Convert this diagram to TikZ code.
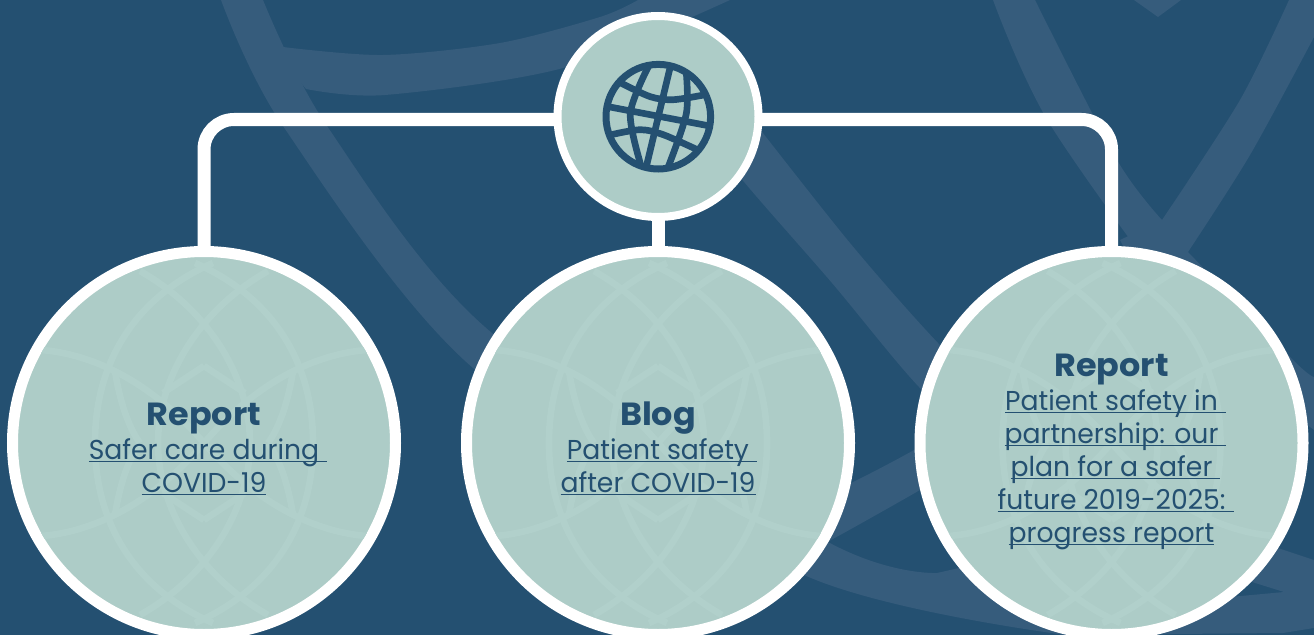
\documentclass[tikz,border=0pt]{standalone}
\usepackage{fontspec}
\setmainfont[FakeStretch=0.975]{Poppins}
\newfontfamily\ttlfont[FakeStretch=1.045,BoldFont={Poppins Bold}]{Poppins}
\definecolor{bgblue}{HTML}{245071}
\definecolor{bandblue}{HTML}{365C7C}
\definecolor{mint}{HTML}{ADCCC7}
\definecolor{mintlight}{HTML}{B1D0CB}
\newcommand\lnk[2][0pt]{\leavevmode\setbox0\hbox{#2}\rlap{\rule[-2.2pt]{\dimexpr\wd0+#1\relax}{1pt}}\box0}
\newcommand\ttl[1]{\rule{0pt}{20pt}{\fontsize{24pt}{24.75pt}\selectfont\ttlfont\bfseries #1}}
\tikzset{
  band/.style={fill=bandblue,draw=none},
  bigcirc/.style={circle,draw=white,fill=mint,line width=8.25pt,minimum size=287.25pt,inner sep=0pt},
  hubcirc/.style={circle,draw=white,fill=mint,line width=6pt,minimum size=150.75pt,inner sep=0pt},
  link/.style={draw=white,line width=9.75pt,rounded corners=22.5pt},
  motifline/.style={draw=mintlight,line width=5pt},
  globeline/.style={draw=bgblue,line width=5pt,line cap=butt},
  txt/.style={text=bgblue,align=center,anchor=north,inner sep=0pt,outer sep=0pt,font=\fontsize{20.5pt}{24.75pt}\selectfont}
}
\newcommand\quadmotif{%
  \draw[motifline] (-64,-172) .. controls (10,-130) and (46,-60) .. (46,0);
  \draw[motifline] (9,-180) .. controls (-60,-150) and (-109,-90) .. (-109,0);
  \draw[motifline] (-190,-93) .. controls (-130,-98) and (-60,-70) .. (0,0);
  \draw[motifline] (-41,-50) -- (0,-77);
  \draw[motifline] (-89,-72) .. controls (-84,-40) and (-75,-15) .. (-64,0);
}
\newcommand\motif[2]{%
  \begin{scope}
    \clip (#1,#2) circle[radius=186];
    \begin{scope}[shift={(#1,#2)}]\quadmotif\end{scope}
    \begin{scope}[shift={(#1,#2)},xscale=-1]\quadmotif\end{scope}
    \begin{scope}[shift={(#1,#2)},yscale=-1]\quadmotif\end{scope}
    \begin{scope}[shift={(#1,#2)},xscale=-1,yscale=-1]\quadmotif\end{scope}
  \end{scope}%
}
\begin{document}
\begin{tikzpicture}[x=0.75pt,y=-0.75pt]
\clip (0,0) rectangle (1314,635);
\fill[bgblue] (0,0) rectangle (1314,635);
% background bands
\fill[band] plot[smooth] coordinates {(221,0)(283,126)(473,368)(804,575)(1066,635)} -- (1283,633) -- (1314,628) -- (1314,585) -- (1284,592) -- (1230,597) -- (1100,570) -- (1000,550) -- (959,568) -- plot[smooth] coordinates {(937,573)(828,542)(492,333)(327,126)(263,0)} -- cycle;
\fill[band] (1150,560) -- (1200,530) -- (1278,548) -- (1314,560) -- (1314,610) -- (1284,592) -- (1252,582) -- cycle;
\fill[band] plot[smooth] coordinates {(745,110)(850,243)(938,343)(1000,400)} -- plot[smooth] coordinates {(1000,460)(919,387)(832,283)(740,177)(700,120)} -- cycle;
\fill[band] plot[smooth] coordinates {(283,47)(383,55)(500,43)(600,17)(638,0)} -- (730,0) -- plot[smooth] coordinates {(730,0)(563,68)(385,95)(306,89)} -- (290,70) -- cycle;
\fill[band] plot[smooth] coordinates {(993,0)(1051,126)(1200,330)(1314,430)} -- plot[smooth] coordinates {(1314,377)(1293,360)(1188,252)} -- plot[smooth] coordinates {(1162,220)(1117,160)(1035,0)} -- cycle;
\fill[band] plot[smooth] coordinates {(1162,220)(1240,100)(1289,0)} -- (1314,0) -- plot[smooth] coordinates {(1314,37)(1250,155)(1188,252)} -- (1150,300) -- (1120,240) -- cycle;
\fill[band] plot[smooth] coordinates {(800,505)(851,483)(914,450)(980,410)} -- plot[smooth] coordinates {(960,465)(920,490)(831,540)(790,560)} -- cycle;
\fill[band] (1134,0) -- (1158,17) -- (1181,0) -- cycle;
% circles
\node[bigcirc] (left) at (204,443) {};
\node[bigcirc] (mid) at (658,443) {};
\node[bigcirc] (right) at (1111.5,443) {};
\motif{204}{443}
\motif{658}{443}
\motif{1111.5}{443}
% connectors
\coordinate (jl) at (558,119.5);
\coordinate (jr) at (758,119.5);
\node[hubcirc] (hub) at (658,116.5) {};
\draw[link] (left.north) |- (jl);
\draw[link] (right.north) |- (jr);
\draw[link] (hub.south) -- (mid.north);
% globe
\begin{scope}[shift={(658.3,116.7)}]
\clip (0,0) circle[radius=54];
\draw[globeline] (-50,-10) -- (50,9);
\draw[globeline] (12,-50) -- (-12,50);
\draw[globeline] plot[smooth] coordinates {(-38,-34)(-8,-20)(15,-17)(47,-22)};
\draw[globeline] plot[smooth] coordinates {(-47,18)(-18,13)(5,18)(39,33)};
\draw[globeline] plot[smooth] coordinates {(-10,-50)(-28,-3)(-17,50)};
\draw[globeline] plot[smooth] coordinates {(28,-44)(28,-3)(10,50)};
\end{scope}
\draw[draw=bgblue,line width=5.25pt] (658.3,116.7) circle[radius=52.3];
% text
\node[txt] (t1) at (204,398.5) {\ttl{Report}\\[0.75pt]\lnk[6pt]{Safer care during}\\\lnk{COVID-19}};
\node[txt] (t2) at (658,398.5) {\ttl{Blog}\\[0.75pt]\lnk[6pt]{Patient safety}\\\lnk{after COVID-19}};
\node[txt] (t3) at (1111.5,349.5) {\ttl{Report}\\[0.75pt]\lnk[6pt]{Patient safety in}\\\lnk[6pt]{partnership: our}\\\lnk[6pt]{plan for a safer}\\\lnk[6pt]{future 2019-2025:}\\\lnk{progress report}};
\end{tikzpicture}
\end{document}
